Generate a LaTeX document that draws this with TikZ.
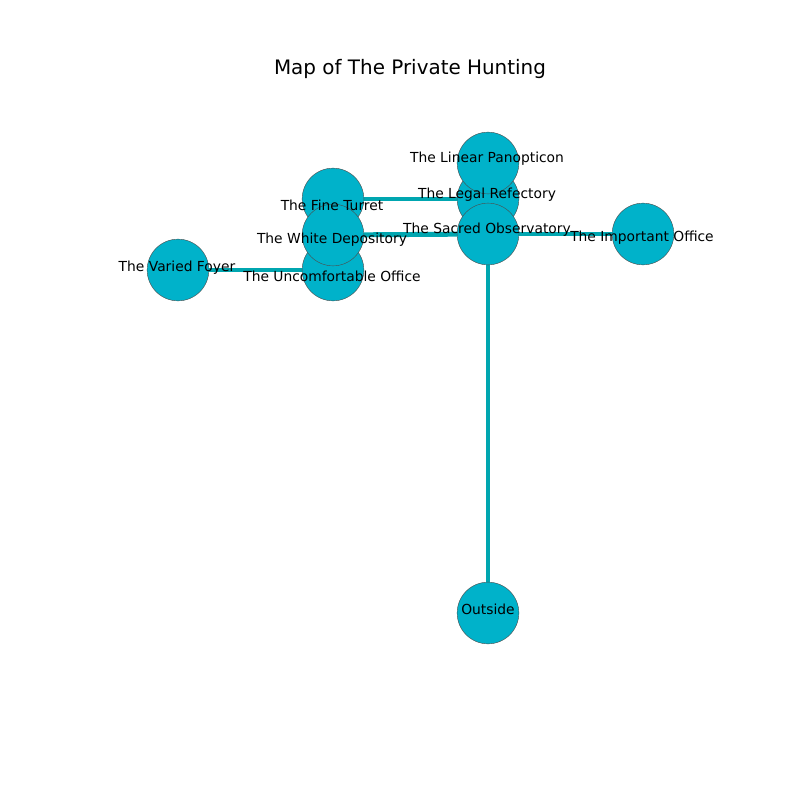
\documentclass[tikz,border=0pt]{standalone}
\usepackage{fontspec}
\setmainfont{DejaVu Sans}
\usepackage{xcolor}
\usetikzlibrary{backgrounds}
\definecolor{roomfill}{RGB}{0,178,202}
\definecolor{passage}{RGB}{0,166,176}

\begin{document}
\begin{tikzpicture}[x=0.0254cm, y=-0.0254cm, main node/.style={circle, draw=black!70, line width=0.3pt, fill=roomfill, minimum size=44.6pt, inner sep=0pt}, label node/.style={font=\fontsize{10}{12}\selectfont, inner sep=0pt}, passage edge/.style={-, draw=passage, line width=3.6pt}]
\useasboundingbox (0,0) rectangle (800,800);
\node[font=\fontsize{14.4}{17}\selectfont] (title) at (410,69) {Map of The Private Hunting};
\node[main node] (2) at (488,199) {};
\node[main node] (1) at (488,163) {};
\node[main node] (3) at (488,234) {};
\node[main node] (4) at (643,234) {};
\node[main node] (5) at (333,199) {};
\node[main node] (7) at (333,270) {};
\node[main node] (6) at (333,235) {};
\node[main node] (8) at (178,270) {};
\node[main node] (9) at (488,613) {};
\node[label node] (1l) at (487,159) {The Linear Panopticon};
\node[label node] (2l) at (487,195) {The Legal Refectory};
\node[label node] (3l) at (487,230) {The Sacred Observatory};
\node[label node] (4l) at (642,238) {The Important Office};
\node[label node] (5l) at (332,205) {The Fine Turret};
\node[label node] (6l) at (332,240) {The White Depository};
\node[label node] (7l) at (332,276) {The Uncomfortable Office};
\node[label node] (8l) at (177,268) {The Varied Foyer};
\node[label node] (9l) at (488,609) {Outside};
\begin{scope}[on background layer]
\path[passage edge]
(1) edge (2)
(5) edge (2)
(6) edge (3)
(3) edge (4)
(3) edge (9)
(5) edge (6)
(6) edge (7)
(8) edge (7);
\end{scope}
\end{tikzpicture}
\end{document}
